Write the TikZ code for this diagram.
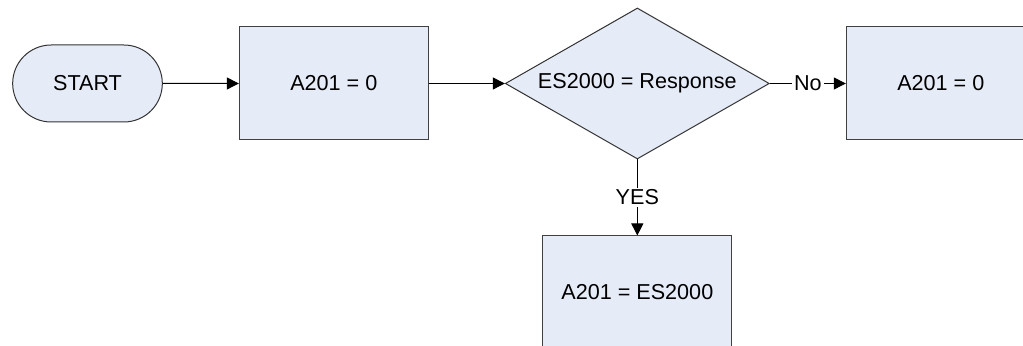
\documentclass[tikz,border=0pt]{standalone}
\usepackage{fontspec}
\setmainfont{Liberation Sans}
\usetikzlibrary{arrows.meta,positioning,shapes.geometric,shapes.misc}
\definecolor{boxfill}{RGB}{230,236,247}

\begin{document}
\begin{tikzpicture}[x=0.5pt,y=-0.5pt,->,>={Triangle[length=6pt,width=6pt]},line width=0.5pt,node distance=38pt,
  font=\fontsize{10.8}{13}\selectfont,
  start node/.style={rounded rectangle,draw=black!80,fill=boxfill,minimum width=81.5pt,minimum height=38.5pt},
  proc node/.style={rectangle,draw=black!75,fill=boxfill,minimum width=94.5pt,minimum height=56.5pt},
  test node/.style={diamond,draw=black!80,fill=boxfill,shape aspect=1.75,minimum width=132pt,minimum height=75.5pt,inner sep=0pt},
  lbl/.style={fill=white,inner sep=1pt}]
              \useasboundingbox (0,0) rectangle (1023,346);
              \node[start node] (start) at (87.5,83.5) {START};
              \node[proc node] (set0) [right=of start] {A201 = 0};
              \node[test node] (test) [right=of set0] {ES2000 = Response};
              \node[proc node] (setno) [right=of test] {A201 = 0};
              \node[proc node] (setyes) [below=of test] {A201 = ES2000};

              \path
                (start) edge (set0)
                (set0) edge (test)
                (test) edge node[lbl] {No} (setno)
                (test) edge node[lbl] {YES} (setyes)
                ;
            \end{tikzpicture}
\end{document}
